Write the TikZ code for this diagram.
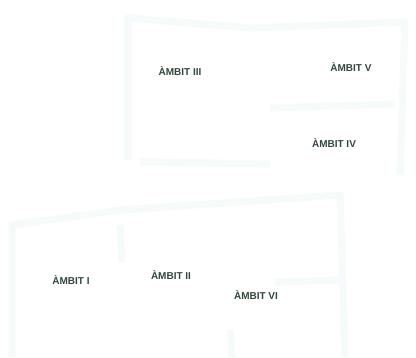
\documentclass[tikz,border=0pt]{standalone}
\usepackage{fontspec}
\setmainfont{Liberation Sans}
\definecolor{lbl}{RGB}{50,72,60}
\definecolor{faint}{RGB}{246,250,250}
\begin{document}
\begin{tikzpicture}[x=1pt,y=-1pt,
  ambit/.style={font=\fontsize{10}{12}\selectfont\bfseries, text=lbl, inner sep=0pt},
  ghost/.style={draw=faint, line width=7pt, line join=round}]
\useasboundingbox[fill=white] (0,0) rectangle (416,357);
% faint background outlines
\draw[ghost] (128,160) -- (128,18) -- (250,28) -- (405,22) -- (400,175);
\draw[ghost] (140,162) -- (270,164);
\draw[ghost] (270,108) -- (395,104);
\draw[ghost] (12,357) -- (12,225) -- (120,210) -- (340,195) -- (345,357);
\draw[ghost] (120,225) -- (122,262);
\draw[ghost] (275,282) -- (340,280);
\draw[ghost] (230,330) -- (232,357);
% labels
\node[ambit] (a3) at (180,71) {ÀMBIT III};
\node[ambit] (a5) at (351,67) {ÀMBIT V};
\node[ambit] (a4) at (334,143) {ÀMBIT IV};
\node[ambit] (a1) at (71,280) {ÀMBIT I};
\node[ambit] (a2) at (171,275) {ÀMBIT II};
\node[ambit] (a6) at (256,295) {ÀMBIT VI};
\end{tikzpicture}
\end{document}
